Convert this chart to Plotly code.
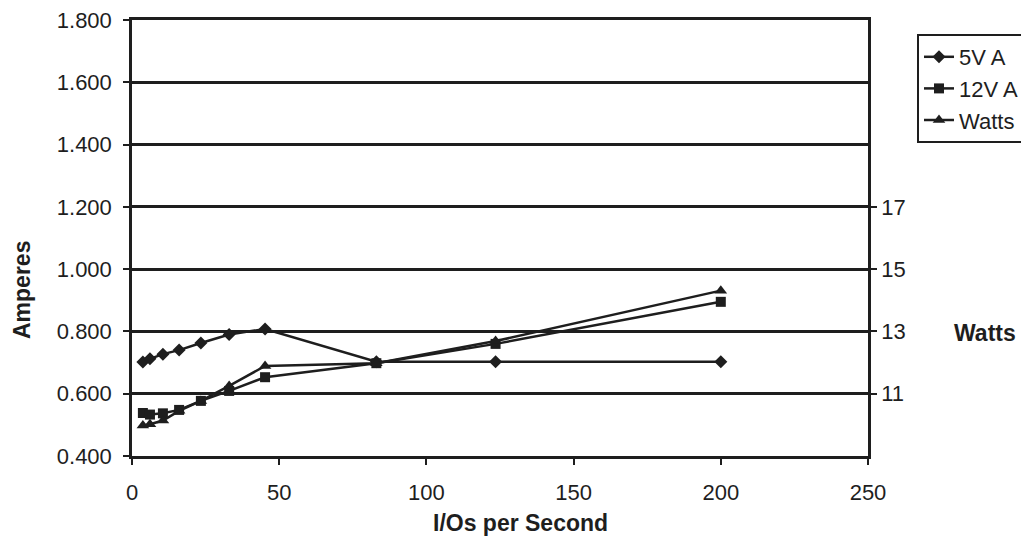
import plotly.graph_objects as go

ios = [3.7, 6.1, 10.5, 16.0, 23.4, 33.0, 45.2, 83.0, 123.5, 200.0]
amps_5v = [0.702, 0.712, 0.727, 0.740, 0.763, 0.790, 0.808, 0.703, 0.703, 0.703]
amps_12v = [0.538, 0.533, 0.537, 0.548, 0.577, 0.609, 0.653, 0.698, 0.760, 0.895]
watts = [9.98, 10.02, 10.14, 10.45, 10.77, 11.25, 11.89, 11.98, 12.69, 14.31]

x_ticks = [0, 50, 100, 150, 200, 250]
amp_ticks = [0.4, 0.6, 0.8, 1.0, 1.2, 1.4, 1.6, 1.8]
watt_ticks = [11, 13, 15, 17]

INK = "#1e1e1e"
FONT = "Liberation Sans, Arial, sans-serif"

# page offset (default body margin) and target plot area in window pixels
OFF = 8
FIG_W, FIG_H = 1029 - OFF, 540 - OFF
L, R, T, B = 132, 868, 20, 456
W, H = R - L, B - T


def px_x(px):
    return (px - L) / W


def px_y(py):
    return (B - py) / H


fig = go.Figure()
fig.add_trace(go.Scatter(x=ios, y=amps_5v, name="5V A", mode="lines+markers",
                         line=dict(color=INK, width=2.5),
                         marker=dict(symbol="diamond", size=10, color=INK)))
fig.add_trace(go.Scatter(x=ios, y=amps_12v, name="12V A", mode="lines+markers",
                         line=dict(color=INK, width=2.5),
                         marker=dict(symbol="square", size=10, color=INK)))
fig.add_trace(go.Scatter(x=ios, y=watts, name="Watts", mode="lines+markers", yaxis="y2",
                         line=dict(color=INK, width=2.5),
                         marker=dict(symbol="triangle-up", size=11, color=INK)))

TICKFONT = dict(size=22)
fig.update_layout(
    width=FIG_W, height=FIG_H,
    margin=dict(l=L - OFF, r=FIG_W - (R - OFF), t=T - OFF, b=FIG_H - (B - OFF),
                autoexpand=False),
    paper_bgcolor="white", plot_bgcolor="white",
    font=dict(family=FONT, size=22, color=INK),
    xaxis=dict(range=[0, 250], tickvals=x_ticks, showgrid=False, zeroline=False,
               showline=True, mirror=True, linecolor=INK, linewidth=2.5, automargin=False,
               ticks="outside", ticklen=6, tickcolor=INK, tickwidth=2,
               tickfont=TICKFONT, ticklabelstandoff=9, ticklabeloverflow="allow"),
    yaxis=dict(range=[0.4, 1.8], tickvals=amp_ticks, tickformat=".3f",
               showgrid=True, gridcolor=INK, gridwidth=2.5, zeroline=False,
               showline=True, linecolor=INK, linewidth=2.5, automargin=False,
               ticks="outside", ticklen=6, tickcolor=INK, tickwidth=2,
               tickfont=TICKFONT, ticklabelstandoff=7, ticklabeloverflow="allow"),
    yaxis2=dict(range=[9, 23], tickvals=watt_ticks, overlaying="y", side="right",
                showgrid=False, zeroline=False, automargin=False,
                showline=True, linecolor=INK, linewidth=2.5,
                ticks="outside", ticklen=6, tickcolor=INK, tickwidth=2,
                tickfont=TICKFONT, ticklabeloverflow="allow"),
    showlegend=True,
    legend=dict(xref="container", yref="container",
                x=(917 - OFF) / FIG_W, y=1 - (34 - OFF) / FIG_H,
                xanchor="left", yanchor="top",
                bordercolor=INK, borderwidth=2, bgcolor="white",
                font=dict(size=22), itemwidth=30, tracegroupgap=0),
    annotations=[
        dict(text="<b>I/Os per Second</b>", xref="paper", yref="paper",
             x=px_x(520), y=px_y(523), xanchor="center", yanchor="middle",
             showarrow=False, font=dict(size=23)),
        dict(text="<b>Amperes</b>", xref="paper", yref="paper",
             x=px_x(22), y=px_y(290), xanchor="center", yanchor="middle",
             textangle=-90, showarrow=False, font=dict(size=23)),
        dict(text="<b>Watts</b>", xref="paper", yref="paper",
             x=px_x(985), y=px_y(333), xanchor="center", yanchor="middle",
             showarrow=False, font=dict(size=23)),
    ],
)

fig.write_html("out.html")
